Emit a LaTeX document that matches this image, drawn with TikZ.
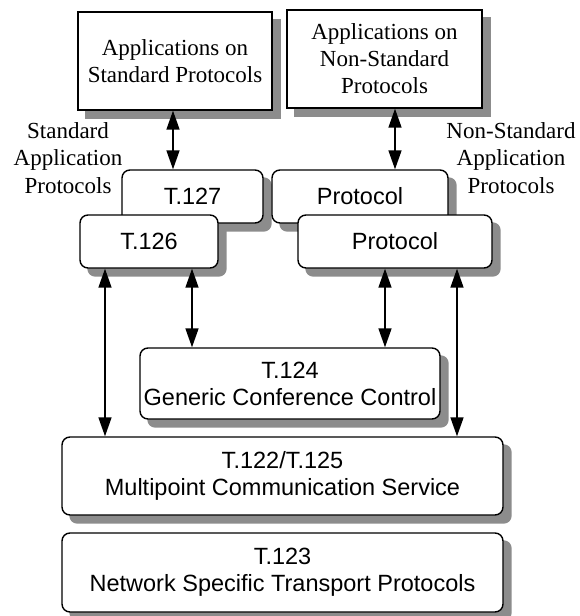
\documentclass[tikz,border=0pt]{standalone}
\usepackage{fontspec}
\setmainfont{Liberation Serif}
\setsansfont{Liberation Sans}
\usetikzlibrary{arrows.meta,backgrounds}

\tikzset{
  appbox/.style={draw,line width=1.4pt,fill=white,inner sep=0pt,align=center,
    font=\fontsize{23}{27}\selectfont},
  layer/.style={draw,line width=1.4pt,rounded corners=8pt,fill=white,inner sep=0pt,
    align=center,font=\sffamily\fontsize{23.5}{27}\selectfont},
  shadebox/.style={fill=black!45},
  link/.style={line width=1.6pt,{Triangle[length=19pt,width=13pt]}-{Triangle[length=19pt,width=13pt]}},
  sidelabel/.style={align=center,font=\fontsize{23}{27.5}\selectfont}
}

\begin{document}
\begin{tikzpicture}[x=1pt,y=-1pt]
\useasboundingbox (0,0) rectangle (579,616);

% Приложения
\node[appbox,minimum width=194pt,minimum height=98pt] (appstd) at (175,61)
  {Applications on\\Standard Protocols};
\node[appbox,minimum width=195pt,minimum height=98pt] (appnon) at (384.5,59)
  {Applications on\\Non-Standard\\Protocols};
\node[sidelabel] (stdlbl) at (68,158) {Standard\\Application\\Protocols};
\node[sidelabel] (nonlbl) at (511,158) {Non-Standard\\Application\\Protocols};

% Протоколы приложений
\node[layer,minimum width=141pt,minimum height=53pt] (t127) at (192.5,196.5) {T.127};
\node[layer,minimum width=176pt,minimum height=53pt] (protoA) at (360,196.5) {Protocol};
\node[layer,minimum width=138pt,minimum height=53pt] (t126) at (149,241.5) {T.126};
\node[layer,minimum width=194pt,minimum height=53pt] (protoB) at (395,241.5) {Protocol};

% Нижние уровни
\node[layer,minimum width=300pt,minimum height=71pt] (t124) at (290,383.5)
  {T.124\\Generic Conference Control};
\node[layer,minimum width=441pt,minimum height=78pt] (t122) at (282.5,476)
  {T.122/T.125\\Multipoint Communication Service};
\node[layer,minimum width=441pt,minimum height=79pt] (t123) at (282.5,572.5)
  {T.123\\Network Specific Transport Protocols};

% Тени
\begin{scope}[on background layer]
\foreach \n/\r in {appstd/0,appnon/0,t127/8,protoA/8,t126/8,protoB/8,t124/8,t122/8,t123/8}
    \fill[shadebox,rounded corners=\r pt] ([xshift=8pt,yshift=-8pt]\n.north west) rectangle ([xshift=8pt,yshift=-8pt]\n.south east);
\end{scope}

% Связи
\foreach \x/\a/\b in {173/appstd/t127,395/appnon/protoA,105/t126/t122,
                      192/t126/t124,385/protoB/t124,457/protoB/t122}{
    \coordinate (col) at (\x,0);
    \draw[link] (\a.south -| col) -- (\b.north -| col);
}
\end{tikzpicture}
\end{document}
